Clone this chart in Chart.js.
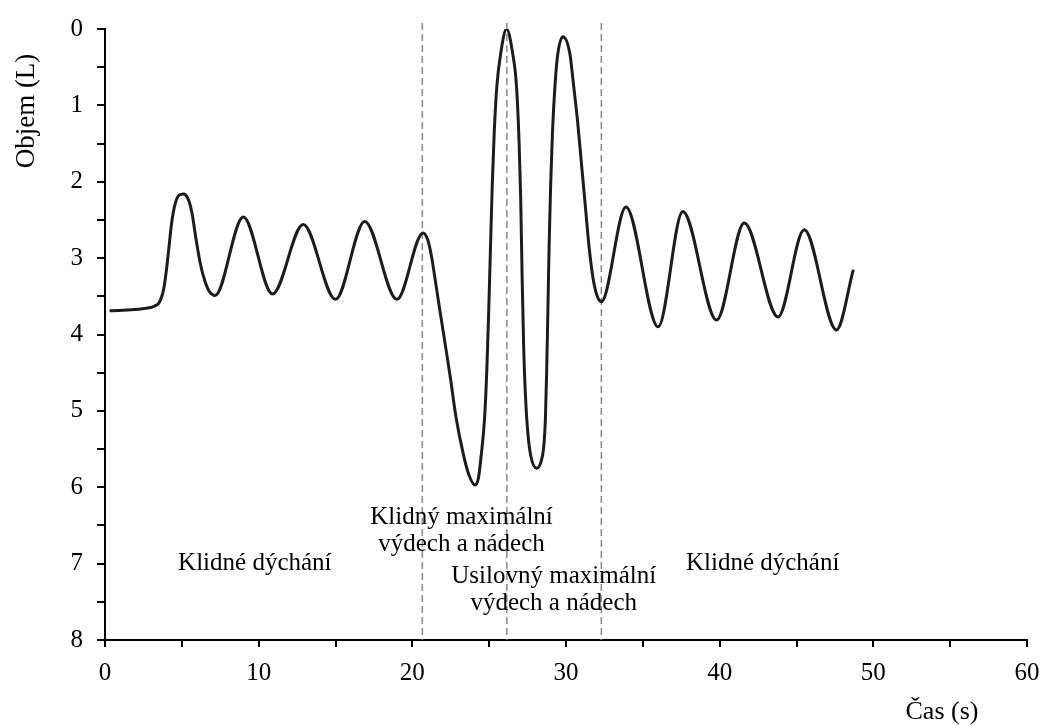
<!DOCTYPE html>
<html>
<head>
<meta charset="utf-8">
<script src="https://cdn.jsdelivr.net/npm/chart.js@4"></script>
<style>
  html, body { margin: 0; padding: 0; background: #fff; }
  #wrap { width: 1043px; height: 726px; }
</style>
</head>
<body>
<div id="wrap"><canvas id="spiro"></canvas></div>
<script>
// čas (s) a objem (L)
const casT = [0.3, 2.9, 3.2, 3.5, 3.7, 3.85, 4.0, 4.15, 4.33, 4.55, 4.8, 5.1, 5.4, 5.65, 5.9, 6.18, 6.5, 6.8, 7.16,
  9.0, 10.9, 12.9, 15.0, 16.9, 19.0, 20.7,
  21.0, 21.25, 21.5, 21.75, 22.0, 22.25, 22.5, 22.84, 23.3, 23.65, 24.07,
  24.3, 24.5, 24.7, 24.85, 24.97, 25.08, 25.2, 25.33, 25.5, 25.75, 26.13,
  26.53, 26.78, 26.95, 27.05, 27.15, 27.25, 27.35, 27.5, 27.7, 28.09,
  28.35, 28.56, 28.66, 28.74, 28.82, 28.9, 29.0, 29.12, 29.28, 29.45, 29.8,
  30.25, 30.5, 30.75, 31.0, 31.25, 31.5, 31.75, 32.0, 32.3,
  33.9, 36.0, 37.6, 39.8, 41.6, 43.8, 45.5, 47.6, 48.7];
const objem = [3.69, 3.65, 3.63, 3.59, 3.5, 3.37, 3.15, 2.88, 2.55, 2.3, 2.18, 2.16, 2.22, 2.4, 2.72, 3.05, 3.3, 3.44, 3.49,
  2.46, 3.47, 2.56, 3.54, 2.52, 3.54, 2.67,
  2.76, 2.98, 3.3, 3.63, 3.95, 4.27, 4.6, 5.08, 5.55, 5.82, 5.97,
  5.88, 5.55, 5.1, 4.45, 3.7, 2.9, 2.05, 1.35, 0.75, 0.32, 0.0,
  0.32, 0.75, 1.5, 2.2, 3.3, 4.2, 4.75, 5.25, 5.58, 5.75,
  5.68, 5.45, 5.1, 4.5, 3.7, 2.85, 2.05, 1.35, 0.75, 0.35, 0.1,
  0.32, 0.75, 1.2, 1.75, 2.3, 2.85, 3.25, 3.48, 3.57,
  2.33, 3.9, 2.39, 3.81, 2.54, 3.77, 2.63, 3.94, 3.15];

// hranice fází (svislé přerušované čáry)
const hranice = [20.65, 26.15, 32.3];

// popisky fází: text, x, y (v jednotkách os)
const popisky = [
  { radky: ['Klidné dýchání'], x: 9.75, y: 7.0 },
  { radky: ['Klidný maximální', 'výdech a nádech'], x: 23.2, y: 6.4 },
  { radky: ['Usilovný maximální', 'výdech a nádech'], x: 29.2, y: 7.17 },
  { radky: ['Klidné dýchání'], x: 42.8, y: 7.0 }
];

const xTicks = [0, 10, 20, 30, 40, 50, 60];
const yTicks = [0, 1, 2, 3, 4, 5, 6, 7, 8];

const FONT = '"Liberation Serif", "Times New Roman", serif';

// svislé čáry jako samostatné datové řady
const caryDatasets = hranice.map(h => ({
  data: [{ x: h, y: -0.08 }, { x: h, y: 8 }],
  borderColor: '#8a8a8a',
  borderWidth: 1.5,
  borderDash: [7, 4],
  pointRadius: 0,
  tension: 0,
  clip: false
}));

// vlastní plugin pro popisky a názvy os
const textPlugin = {
  id: 'texty',
  afterDatasetsDraw(chart) {
    const ctx = chart.ctx;
    const xs = chart.scales.x, ys = chart.scales.y;
    ctx.save();
    ctx.fillStyle = '#000';
    ctx.font = '25px ' + FONT;
    ctx.textAlign = 'center';
    ctx.textBaseline = 'middle';
    popisky.forEach(p => {
      const px = xs.getPixelForValue(p.x);
      let py = ys.getPixelForValue(p.y);
      p.radky.forEach(r => {
        ctx.fillText(r, px, py);
        py += 27;
      });
    });
    // názvy os
    ctx.font = '26px ' + FONT;
    ctx.fillText('Čas (s)', 942, 712);
    ctx.font = '27px ' + FONT;
    ctx.translate(27, 111);
    ctx.rotate(-Math.PI / 2);
    ctx.fillText('Objem (L)', 0, 0);
    ctx.restore();
  }
};

new Chart(document.getElementById('spiro'), {
  type: 'line',
  data: {
    datasets: [{
      data: casT.map((t, i) => ({ x: t, y: objem[i] })),
      borderColor: '#1c1c1c',
      borderWidth: 3,
      pointRadius: 0,
      cubicInterpolationMode: 'monotone',
      fill: false
    }, ...caryDatasets]
  },
  options: {
    responsive: true,
    maintainAspectRatio: false,
    animation: false,
    layout: { padding: { left: 10, right: 16, top: 29, bottom: 0 } },
    plugins: { legend: { display: false }, tooltip: { enabled: false } },
    scales: {
      x: {
        type: 'linear',
        min: 0, max: 60,
        afterFit: s => { s.height = 86; s.paddingLeft = 0; s.paddingRight = 0; },
        afterBuildTicks: s => { s.ticks = [];
          for (let v = 0; v <= 60; v += 5) s.ticks.push({ value: v }); },
        border: { display: true, color: '#000', width: 2 },
        grid: { drawOnChartArea: false, drawTicks: true, tickLength: 7, color: '#000', lineWidth: 2 },
        ticks: {
          autoSkip: false, maxRotation: 0, padding: 11, color: '#000',
          font: { family: FONT, size: 25 },
          callback: v => xTicks.includes(v) ? String(v) : ''
        }
      },
      y: {
        type: 'linear',
        reverse: true,
        min: 0, max: 8,
        afterFit: s => { s.width = 95; s.paddingTop = 0; s.paddingBottom = 0; },
        afterBuildTicks: s => { s.ticks = [];
          for (let v = 0; v <= 8; v += 0.5) s.ticks.push({ value: v }); },
        border: { display: true, color: '#000', width: 2 },
        grid: { drawOnChartArea: false, drawTicks: true, tickLength: 8, color: '#000', lineWidth: 2 },
        ticks: {
          autoSkip: false, padding: 14, color: '#000',
          font: { family: FONT, size: 25 },
          callback: v => yTicks.includes(v) ? String(v) : ''
        }
      }
    }
  },
  plugins: [textPlugin]
});
</script>
</body>
</html>
